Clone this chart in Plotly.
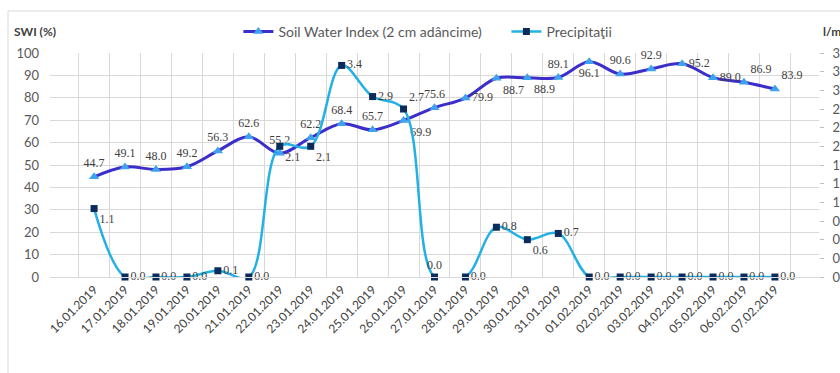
import plotly.graph_objects as go

# Dates on the category axis
dates = [
    "16.01.2019", "17.01.2019", "18.01.2019", "19.01.2019", "20.01.2019",
    "21.01.2019", "22.01.2019", "23.01.2019", "24.01.2019", "25.01.2019",
    "26.01.2019", "27.01.2019", "28.01.2019", "29.01.2019", "30.01.2019",
    "31.01.2019", "01.02.2019", "02.02.2019", "03.02.2019", "04.02.2019",
    "05.02.2019", "06.02.2019", "07.02.2019",
]

# Soil Water Index at 2 cm depth (%)
swi = [44.7, 49.1, 48.0, 49.2, 56.3, 62.6, 55.2, 62.2, 68.4, 65.7, 69.9, 75.6,
       79.9, 88.7, 88.9, 89.1, 96.1, 90.6, 92.9, 95.2, 89.0, 86.9, 83.9]

# Daily precipitation (l/m²)
precip = [1.1, 0.0, 0.0, 0.0, 0.1, 0.0, 2.1, 2.1, 3.4, 2.9, 2.7, 0.0,
          0.0, 0.8, 0.6, 0.7, 0.0, 0.0, 0.0, 0.0, 0.0, 0.0, 0.0]

# Label placement per point
swi_pos = ["top center"] * 10 + ["bottom right", "top center", "middle right",
           "bottom right", "bottom right", "top center", "bottom center",
           "top center", "top center", "middle right", "middle right",
           "top right", "top right"]
precip_pos = ["bottom right"] + ["middle right"] * 3 + ["middle right", "middle right",
              "bottom right", "bottom right", "middle right", "middle right",
              "top right", "top center", "middle right", "middle right",
              "bottom right"] + ["middle right"] * 8

SANS = "Lato, 'Liberation Sans', sans-serif"
SERIF = "'Liberation Serif', serif"
GRID = "#d9d9d9"

fig = go.Figure()

fig.add_trace(go.Scatter(
    x=dates, y=swi, name="Soil Water Index (2 cm adâncime)",
    mode="lines+markers+text",
    line=dict(color="#3b2ecb", width=3, shape="spline", smoothing=1.0),
    marker=dict(symbol="triangle-up", size=9, color="#3fa2ee"),
    text=[f"{v:.1f}" for v in swi], textposition=swi_pos,
    textfont=dict(family=SERIF, size=12, color="#404040"),
    cliponaxis=False, yaxis="y",
))

fig.add_trace(go.Scatter(
    x=dates, y=precip, name="Precipitaţii",
    mode="lines+markers+text",
    line=dict(color="#23b1e5", width=2.5, shape="spline", smoothing=1.0),
    marker=dict(symbol="square", size=7, color="#0b2b5c"),
    text=[f"{v:.1f}" for v in precip], textposition=precip_pos,
    textfont=dict(family=SERIF, size=12, color="#404040"),
    cliponaxis=False, yaxis="y2",
))

fig.update_layout(
    width=840, height=373,
    margin=dict(l=50, r=21, t=53, b=96),
    paper_bgcolor="white", plot_bgcolor="white",
    font=dict(family=SANS, size=12, color="#595959"),
    showlegend=True,
    legend=dict(orientation="h", x=0.245, xanchor="left", y=1.094, yanchor="middle",
                entrywidth=223, entrywidthmode="pixels",
                font=dict(family=SANS, size=14, color="#595959"),
                bgcolor="rgba(0,0,0,0)"),
    xaxis=dict(type="category", tickson="boundaries", showgrid=True, gridcolor=GRID,
               tickangle=-45, ticks="", showline=True, linecolor=GRID,
               automargin=False,
               tickfont=dict(family=SANS, size=12, color="#404040")),
    yaxis=dict(range=[0, 100], dtick=10, showgrid=True, gridcolor=GRID,
               zeroline=False, ticks="", ticklabelstandoff=10, automargin=False,
               tickfont=dict(family=SANS, size=13, color="#595959")),
    yaxis2=dict(range=[0, 3.6], dtick=0.3, overlaying="y", side="right",
                showgrid=False, zeroline=False, ticks="outside", ticklen=4,
                tickcolor="#bfbfbf", ticklabelstandoff=6, automargin=False,
                tickfont=dict(family=SANS, size=13, color="#595959")),
    annotations=[
        dict(text="<b>SWI (%)</b>", xref="paper", yref="paper", x=-0.0494, y=1.094,
             xanchor="left", yanchor="middle", showarrow=False,
             font=dict(family=SANS, size=12, color="#404040")),
        dict(text="<b>l/m²</b>", xref="paper", yref="paper", x=1.002, y=1.094,
             xanchor="left", yanchor="middle", showarrow=False,
             font=dict(family=SANS, size=12, color="#404040")),
    ],
    shapes=[
        dict(type="rect", xref="paper", yref="paper", x0=-0.0546, x1=1.2,
             y0=-0.6, y1=1.1875, line=dict(color=GRID, width=1), layer="below"),
    ],
)

fig.write_html("out.html")
